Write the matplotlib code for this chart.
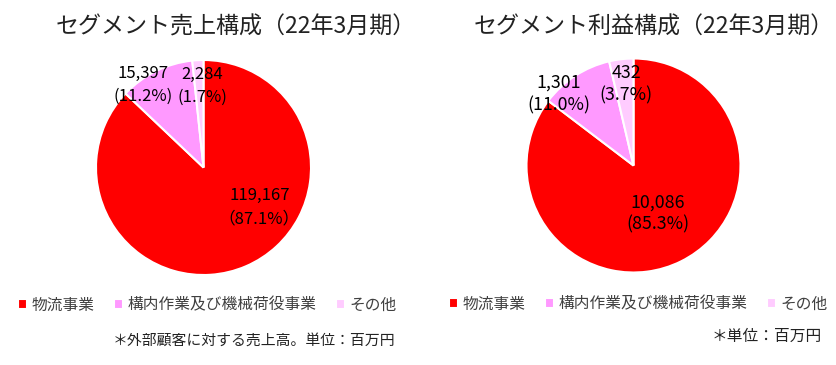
import matplotlib
matplotlib.use("Agg")
import matplotlib.pyplot as plt

plt.rcParams['font.family'] = ['Noto Sans CJK JP', 'DejaVu Sans']

segments = ['物流事業', '構内作業及び機械荷役事業', 'その他']
colors = ['#FF0000', '#FF99FF', '#FFCCFF']

sales = [119167, 15397, 2284]
sales_pct = ['（87.1%）', '(11.2%)', '(1.7%)']
profit = [10086, 1301, 432]
profit_pct = ['(85.3%)', '(11.0%)', '(3.7%)']

W, H = 837, 365
fig = plt.figure(figsize=(W / 100, H / 100), dpi=100)


def px_axes(cx, cy, r):
    # pie axes box from pixel centre/radius (image coords, top-down)
    return fig.add_axes([(cx - r) / W, (H - cy - r) / H, 2 * r / W, 2 * r / H])


def draw_pie(ax, values, pcts, label_pos, fs, ls):
    wedges, _ = ax.pie(values, colors=colors, startangle=90, counterclock=False,
                       radius=1, wedgeprops=dict(edgecolor='white', linewidth=1.5))
    ax.set_xlim(-1, 1)
    ax.set_ylim(-1, 1)
    for v, p, (x, y) in zip(values, pcts, label_pos):
        ax.text(x, y, f"{v:,}\n{p}", ha='center', va='center', fontsize=fs,
                linespacing=ls, color='black')
    return wedges


# left pie
ax1 = px_axes(203.5, 167.5, 107.5)
w1 = draw_pie(ax1, sales, sales_pct,
              [(0.52, -0.37), (-0.565, 0.765), (-0.01, 0.76)], 12, 1.45)
# right pie
ax2 = px_axes(633.5, 165.5, 107)
w2 = draw_pie(ax2, profit, profit_pct,
              [(0.225, -0.45), (-0.70, 0.67), (-0.07, 0.76)], 12.8, 1.3)

fig.text(236, H - 27, 'セグメント売上構成（22年3月期）', fontsize=16.6, ha='center',
         va='center', color='#222222', transform=None)
fig.text(654, H - 27, 'セグメント利益構成（22年3月期）', fontsize=16.6, ha='center',
         va='center', color='#222222', transform=None)

leg_kw = dict(ncol=3, frameon=False, fontsize=11.3, handlelength=0.55,
              handleheight=0.55, handletextpad=0.3, columnspacing=1.25,
              labelcolor='#404040', borderpad=0, borderaxespad=0)
fig.legend(w1, segments, loc='center left', bbox_to_anchor=(18 / W, 1 - 305 / H), **leg_kw)
fig.legend(w2, segments, loc='center left', bbox_to_anchor=(449 / W, 1 - 304 / H), **leg_kw)

fig.text(395 / W, 1 - 341 / H, '＊外部顧客に対する売上高。単位：百万円', fontsize=10.7,
         ha='right', va='center', color='#222222')
fig.text(822 / W, 1 - 336 / H, '＊単位：百万円', fontsize=11.3,
         ha='right', va='center', color='#222222')

fig.savefig('out.png', dpi=100)
